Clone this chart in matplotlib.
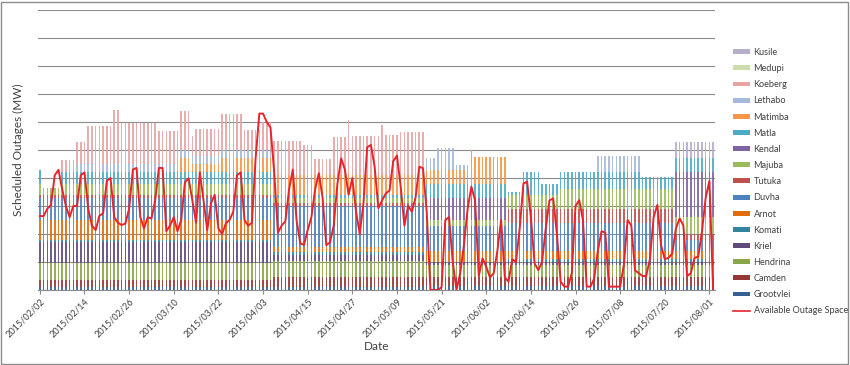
import numpy as np
import pandas as pd
import matplotlib
matplotlib.use("Agg")
from matplotlib import pyplot as plt
from matplotlib.patches import Patch, Rectangle
from matplotlib.lines import Line2D

plt.rcParams["font.family"] = ["Lato", "DejaVu Sans"]

N_DAYS = 182
START = "2015-02-02"

# Scheduled outages per station (MW), run-length coded: (first day index, value)
GROOTVLEI = [(0, 100), (104, 150)]
CAMDEN = [(0, 250), (63, 350), (104, 300)]
HENDRINA = [(0, 600), (104, 450)]
KRIEL = [(0, 750), (63, 200), (104, 100)]
KOMATI = [(0, 100), (104, 0), (126, 100)]
ARNOT = [(0, 700), (63, 200), (104, 400), (126, 300)]
DUVHA = [(0, 800), (63, 1450), (104, 900), (126, 1000), (171, 400)]
TUTUKA = [(0, 100), (104, 0), (126, 500), (171, 200)]
MAJUBA = [(0, 400), (1, 250), (6, 400), (63, 200), (126, 500), (140, 700),
          (171, 600)]
KENDAL = [(0, 0), (104, 800), (126, 0), (171, 1600)]
MATLA = [(0, 490), (1, 0), (6, 400), (63, 100), (104, 500), (126, 100),
         (130, 800), (135, 400), (140, 630), (162, 430), (171, 500)]
MATIMBA = [(0, 0), (38, 500), (41, 300), (49, 500), (63, 700), (104, 500),
           (116, 1200), (117, 960), (126, 0)]
LETHABO = [(0, 0), (10, 300), (63, 0), (104, 400), (107, 770), (112, 160),
           (116, 0), (150, 560), (162, 0)]
KOEBERG = [(0, 0), (6, 450), (10, 800), (13, 1350), (20, 1930), (22, 1450),
           (32, 1190), (38, 1400), (41, 700), (42, 940), (49, 1300),
           (55, 700), (60, 1000), (63, 1230), (71, 1080), (74, 580),
           (79, 1380), (83, 1970), (84, 1400), (92, 1800), (93, 1440),
           (97, 1550), (104, 0)]
MEDUPI = [(0, 0)]
KUSILE = [(0, 0), (171, 600)]

# Available outage space (MW), one value per day
AVAILABLE = [
    2640, 2640, 2900, 3040, 4100, 4290, 3600, 3000, 2600, 3000,
    3000, 4100, 4200, 2900, 2300, 2140, 2650, 2740, 3900, 4000,
    2600, 2400, 2320, 2380, 2900, 4300, 4360, 2600, 2200, 2600,
    2550, 3200, 4360, 4360, 2100, 2300, 2600, 2100, 2500, 3850,
    3990, 3200, 2400, 4200, 3200, 2140, 3100, 3400, 2200, 2000,
    2380, 2500, 2800, 4100, 4200, 2500, 2300, 2400, 4700, 6300,
    6300, 6000, 5800, 4200, 2050, 2300, 2450, 3600, 4300, 2500,
    1670, 1610, 2140, 2600, 3600, 4170, 3300, 1600, 1700, 2300,
    3800, 4700, 4300, 3400, 4000, 2800, 2000, 3100, 5100, 5180,
    4400, 2920, 3200, 3450, 3550, 4600, 4800, 3700, 2300, 3000,
    2800, 3300, 4400, 4350, 2800, 0, 0, 0, 100, 2500,
    2600, 1000, 0, 600, 1600, 2900, 3690, 3200, 500, 1130,
    830, 450, 600, 1400, 2500, 450, 300, 1100, 1000, 2200,
    3800, 3870, 2600, 950, 710, 1000, 2200, 3200, 3270, 2000,
    300, 120, 120, 600, 3000, 3210, 2500, 120, 120, 400,
    1400, 2100, 2050, 120, 120, 120, 120, 900, 2500, 2300,
    700, 600, 500, 500, 1100, 2600, 3040, 1600, 1100, 1150,
    1300, 2200, 2560, 2300, 500, 600, 1150, 1190, 2100, 3300,
    3900, 0,
]

SERIES = [
    ("Grootvlei", GROOTVLEI, "#376092"),
    ("Camden", CAMDEN, "#953735"),
    ("Hendrina", HENDRINA, "#8AA64A"),
    ("Kriel", KRIEL, "#604A7B"),
    ("Komati", KOMATI, "#31859C"),
    ("Arnot", ARNOT, "#E46C0A"),
    ("Duvha", DUVHA, "#4F81BD"),
    ("Tutuka", TUTUKA, "#C0504D"),
    ("Majuba", MAJUBA, "#9BBB59"),
    ("Kendal", KENDAL, "#8064A2"),
    ("Matla", MATLA, "#4BACC6"),
    ("Matimba", MATIMBA, "#F79646"),
    ("Lethabo", LETHABO, "#A7B9DA"),
    ("Koeberg", KOEBERG, "#E6A5A4"),
    ("Medupi", MEDUPI, "#CDDDAC"),
    ("Kusile", KUSILE, "#B7AECB"),
]


def expand(runs, n=N_DAYS):
    """Turn (start, value) runs into a daily array"""
    out = np.zeros(n)
    starts = [r[0] for r in runs] + [n]
    for (s, v), e in zip(runs, starts[1:]):
        out[s:e] = v
    return out


dates = pd.date_range(START, periods=N_DAYS, freq="D")
x = np.arange(N_DAYS)

fig = plt.figure(figsize=(8.5, 3.65), dpi=100)
ax = fig.add_axes([38 / 850, 1 - 290 / 365, (715 - 38) / 850, 280 / 365])

# Stacked bars
bottom = np.zeros(N_DAYS)
for name, runs, color in SERIES:
    vals = expand(runs)
    ax.bar(x, vals, bottom=bottom, width=0.42, color=color, linewidth=0,
           alpha=0.9, zorder=2)
    bottom += vals

ax.plot(x, AVAILABLE, color="#E8232B", linewidth=1.4, zorder=3,
        solid_joinstyle="round")

# Axes styling
ax.set_xlim(-0.5, N_DAYS - 0.5)
ax.set_ylim(0, 10000)
ax.set_yticks(np.arange(0, 10001, 1000))
ax.yaxis.grid(True, color="#8C8C8C", linewidth=0.8, zorder=0)
ax.set_axisbelow(True)
ax.tick_params(axis="y", length=0, labelleft=False)
for side in ("top", "right", "left"):
    ax.spines[side].set_visible(False)
ax.spines["bottom"].set_color("#8C8C8C")

tick_idx = np.arange(0, N_DAYS, 12)
ax.set_xticks(tick_idx)
ax.set_xticklabels([dates[i].strftime("%Y/%m/%d") for i in tick_idx],
                   rotation=45, ha="right", va="top", rotation_mode="anchor",
                   fontsize=6.6, color="#404040")
ax.tick_params(axis="x", length=3, color="#8C8C8C", pad=2)

ax.set_xlabel("Date", fontsize=8.5, color="#404040", labelpad=1)
ax.set_ylabel("Scheduled Outages (MW)", fontsize=8.5, color="#404040",
              labelpad=10)

# Legend
handles = [Patch(facecolor=c, edgecolor="none", label=n)
           for n, _, c in reversed(SERIES)]
handles.append(Line2D([], [], color="#E8232B", linewidth=1.2,
                      label="Available Outage Space"))
fig.legend(handles=handles, loc="upper left",
           bbox_to_anchor=(733 / 850, 1 - 48 / 365), frameon=False,
           fontsize=6.6, handlelength=1.9, handleheight=0.45,
           handletextpad=0.35, labelspacing=0.78, borderpad=0,
           borderaxespad=0, labelcolor="#404040")

# Chart border
fig.add_artist(Rectangle((0.0015, 0.003), 0.996, 0.992,
                         transform=fig.transFigure, fill=False,
                         edgecolor="#8C8C8C", linewidth=1.0))

fig.savefig("out.png", dpi=100)
